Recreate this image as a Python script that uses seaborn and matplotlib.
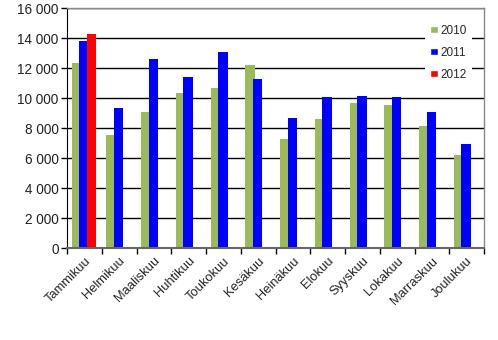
import matplotlib
matplotlib.use("Agg")
import matplotlib.pyplot as plt
import seaborn as sns
import pandas as pd
import numpy as np
from matplotlib.ticker import FuncFormatter, FixedLocator

months = ["Tammikuu", "Helmikuu", "Maaliskuu", "Huhtikuu", "Toukokuu", "Kesäkuu",
          "Heinäkuu", "Elokuu", "Syyskuu", "Lokakuu", "Marraskuu", "Joulukuu"]
v2010 = [12350, 7530, 9070, 10330, 10670, 12200, 7270, 8600, 9670, 9530, 8130, 6200]
v2011 = [13780, 9310, 12580, 11380, 13050, 11250, 8650, 10050, 10110, 10050, 9050, 6910]
v2012 = [14270, np.nan, np.nan, np.nan, np.nan, np.nan, np.nan, np.nan, np.nan, np.nan, np.nan, np.nan]
years = ["2010", "2011", "2012"]
colors = ["#9BBB59", "#0000FF", "#FF0000"]

rows = []
for y, vals in zip(years, [v2010, v2011, v2012]):
    for m, v in zip(months, vals):
        rows.append({"month": m, "year": y, "value": v})
df = pd.DataFrame(rows)

sns.set_style("white")
plt.rcParams['font.family'] = ['Liberation Sans', 'DejaVu Sans']

fig = plt.figure(figsize=(4.98, 3.40), dpi=100)
ax = fig.add_axes([67/498, 1-248/340, (484-67)/498, 240/340])

sns.barplot(data=df, x="month", y="value", hue="year", palette=colors,
            order=months, hue_order=years, width=0.8, ax=ax, saturation=1,
            errorbar=None, legend=True)

# Excel-like overlap: pull bars towards category centre, widen a bit
for p in ax.patches:
    w = p.get_width()
    if w == 0 or np.isnan(p.get_height()):
        continue
    cx = p.get_x() + w / 2
    cat = round(cx)
    ncx = cat + (cx - cat) * 0.8
    nw = 0.27
    p.set_x(ncx - nw / 2 - 0.015)
    p.set_width(nw)
    p.set_edgecolor("none")

ax.set_xlim(-0.5, 11.5)
ax.set_ylim(0, 16000)
ax.set_yticks(np.arange(0, 16001, 2000))
ax.yaxis.set_major_formatter(FuncFormatter(lambda v, p: f"{int(v):,}".replace(",", " ")))
ax.grid(axis="y", color="black", linewidth=1.0)
ax.set_axisbelow(True)
ax.set_xlabel("")
ax.set_ylabel("")

ax.set_xticks(range(12))
ax.set_xticklabels(months, rotation=45, ha="right", rotation_mode="anchor", fontsize=9.3, color="#222222")
ax.tick_params(axis="x", which="major", length=0, pad=5)
ax.xaxis.set_minor_locator(FixedLocator(np.arange(-0.5, 12, 1)))
ax.tick_params(axis="x", which="minor", length=4, color="black", width=1, direction="out", bottom=True)
ax.tick_params(axis="y", length=4, color="black", width=1, direction="out", left=True, labelsize=9.8, labelcolor="#222222", pad=2)

for s in ["top", "right"]:
    ax.spines[s].set_color("#888888")
    ax.spines[s].set_linewidth(1)
ax.spines["left"].set_color("black")
ax.spines["bottom"].set_color("#666666")
ax.spines["bottom"].set_linewidth(1.5)

handles, labels = ax.get_legend_handles_labels()
leg = ax.legend(handles, labels, loc="upper right", bbox_to_anchor=(0.985, 0.975),
                frameon=True, fancybox=False, framealpha=1, edgecolor="none",
                fontsize=8.5, handlelength=0.65, handleheight=0.65, handletextpad=0.25,
                labelspacing=0.85, borderpad=0.4)

fig.savefig("out.png", dpi=100)
